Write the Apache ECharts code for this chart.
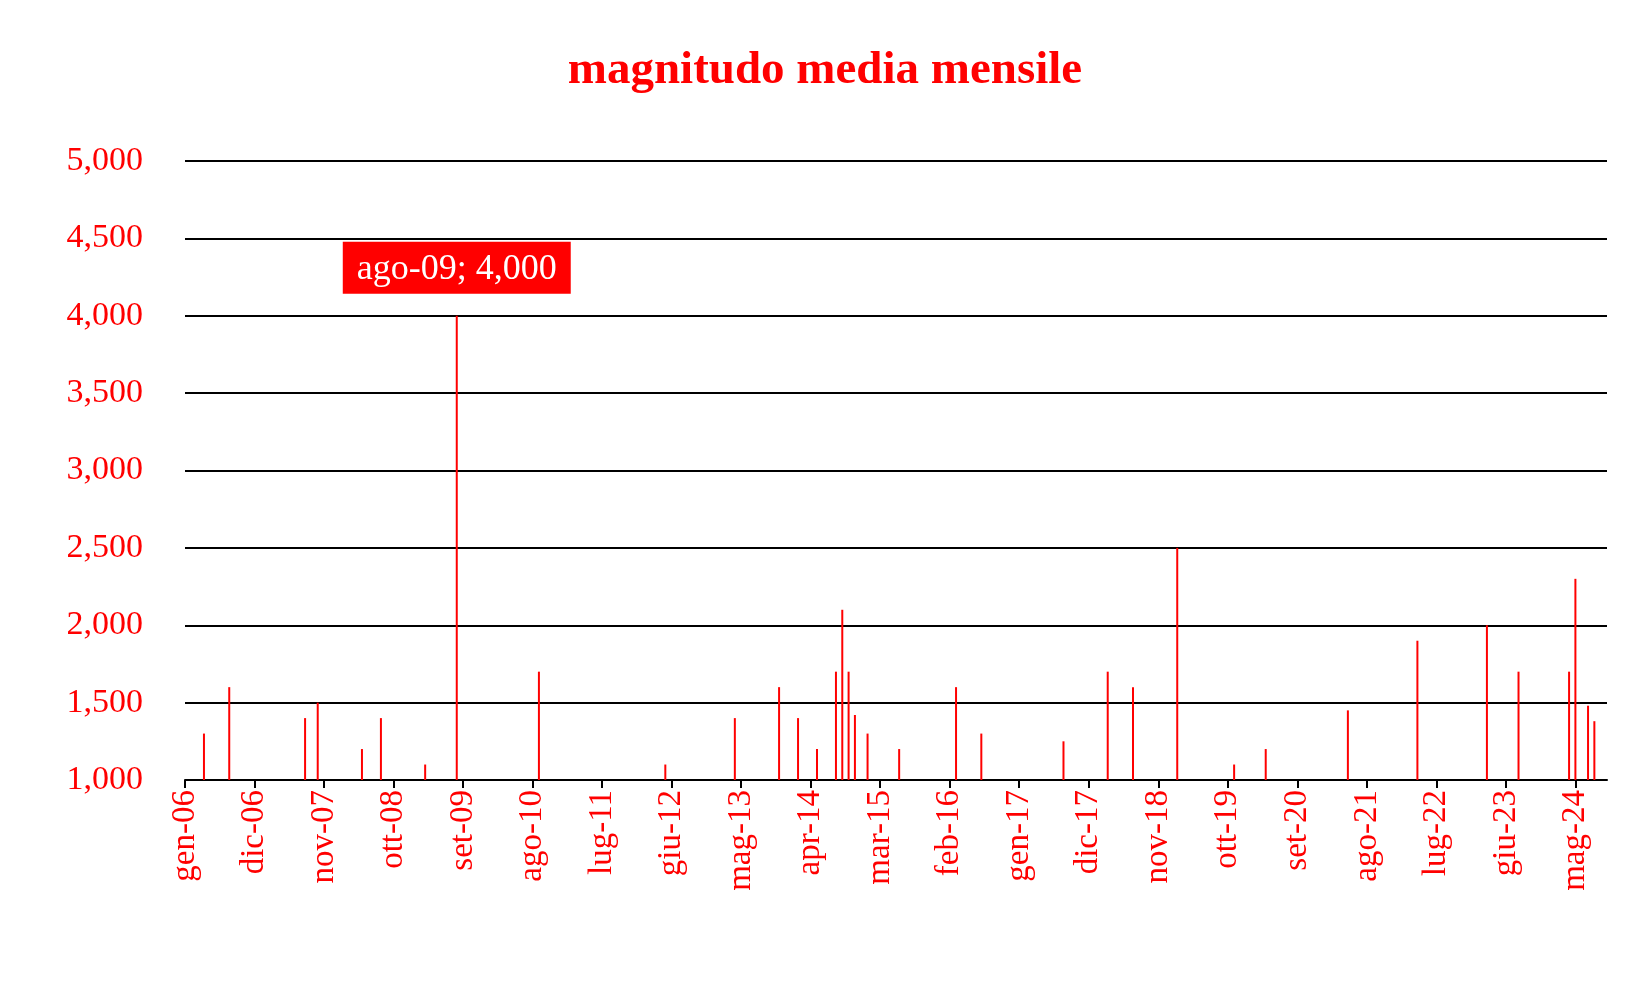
<!DOCTYPE html>
<html><head><meta charset="utf-8">
<script src="https://cdn.jsdelivr.net/npm/echarts@6/dist/echarts.min.js"></script>
<style>html,body{margin:0;padding:0;background:#fff}#c{width:1650px;height:990px}</style>
</head><body><div id="c"></div>
<script>
const monthNames = ['gen','feb','mar','apr','mag','giu','lug','ago','set','ott','nov','dic'];
const categories = [];
for (let y = 2006; y <= 2024; y++) for (let m = 0; m < 12; m++) {
  if (y === 2024 && m > 9) break;
  categories.push(monthNames[m] + '-' + String(y).slice(2));
}
const eventMonths = ['apr-06','ago-06','ago-07','ott-07','mag-08','ago-08','mar-09','ago-09','set-10','mag-12','apr-13','nov-13','feb-14','mag-14','ago-14','set-14','ott-14','nov-14','gen-15','giu-15','mar-16','lug-16','ago-17','mar-18','lug-18','feb-19','nov-19','apr-20','mag-21','apr-22','mar-23','ago-23','apr-24','mag-24','lug-24','ago-24'];
const eventValues = [1300,1600,1400,1500,1200,1400,1100,4000,1700,1100,1400,1600,1400,1200,1700,2100,1700,1420,1300,1200,1600,1300,1250,1700,1600,2500,1100,1200,1450,1900,2000,1700,1700,2300,1480,1380];

const font = 'Liberation Serif, DejaVu Serif, serif';
const values = categories.map(c => {
  const i = eventMonths.indexOf(c);
  if (i < 0) return 1000;
  const v = eventValues[i];
  if (c === 'ago-09') return {value: v, label: {show: true, position: 'top', distance: 22,
    formatter: p => p.name + '; ' + p.value.toLocaleString('en-US'),
    backgroundColor: '#ff0000', color: '#fff', fontSize: 36, fontFamily: font, padding: [10, 14, 6, 14]}};
  return v;
});
const chart = echarts.init(document.getElementById('c'));
chart.setOption({
  animation: false,
  title: {text: 'magnitudo media mensile', left: 'center', top: 42,
    textStyle: {color: '#ff0000', fontSize: 47, fontWeight: 'bold', fontFamily: font}},
  grid: {left: 185, right: 43, top: 161, bottom: 210},
  xAxis: {type: 'category', data: categories, boundaryGap: false,
    axisLine: {lineStyle: {color: '#000', width: 2}},
    axisTick: {show: true, interval: 10, length: 8, lineStyle: {color: '#000', width: 2}},
    axisLabel: {interval: 10, rotate: 90, color: '#ff0000', fontSize: 33, fontFamily: font, margin: 10}},
  yAxis: {type: 'value', min: 1000, max: 5000, interval: 500,
    axisLine: {show: false}, axisTick: {show: false},
    splitLine: {lineStyle: {color: '#000', width: 2}},
    axisLabel: {color: '#ff0000', fontSize: 34, fontFamily: font, margin: 42,
      formatter: v => v.toLocaleString('en-US')}},
  series: [{type: 'bar', data: values, barWidth: 2, itemStyle: {color: '#ff0000'}, z: 3}]
});
</script></body></html>
